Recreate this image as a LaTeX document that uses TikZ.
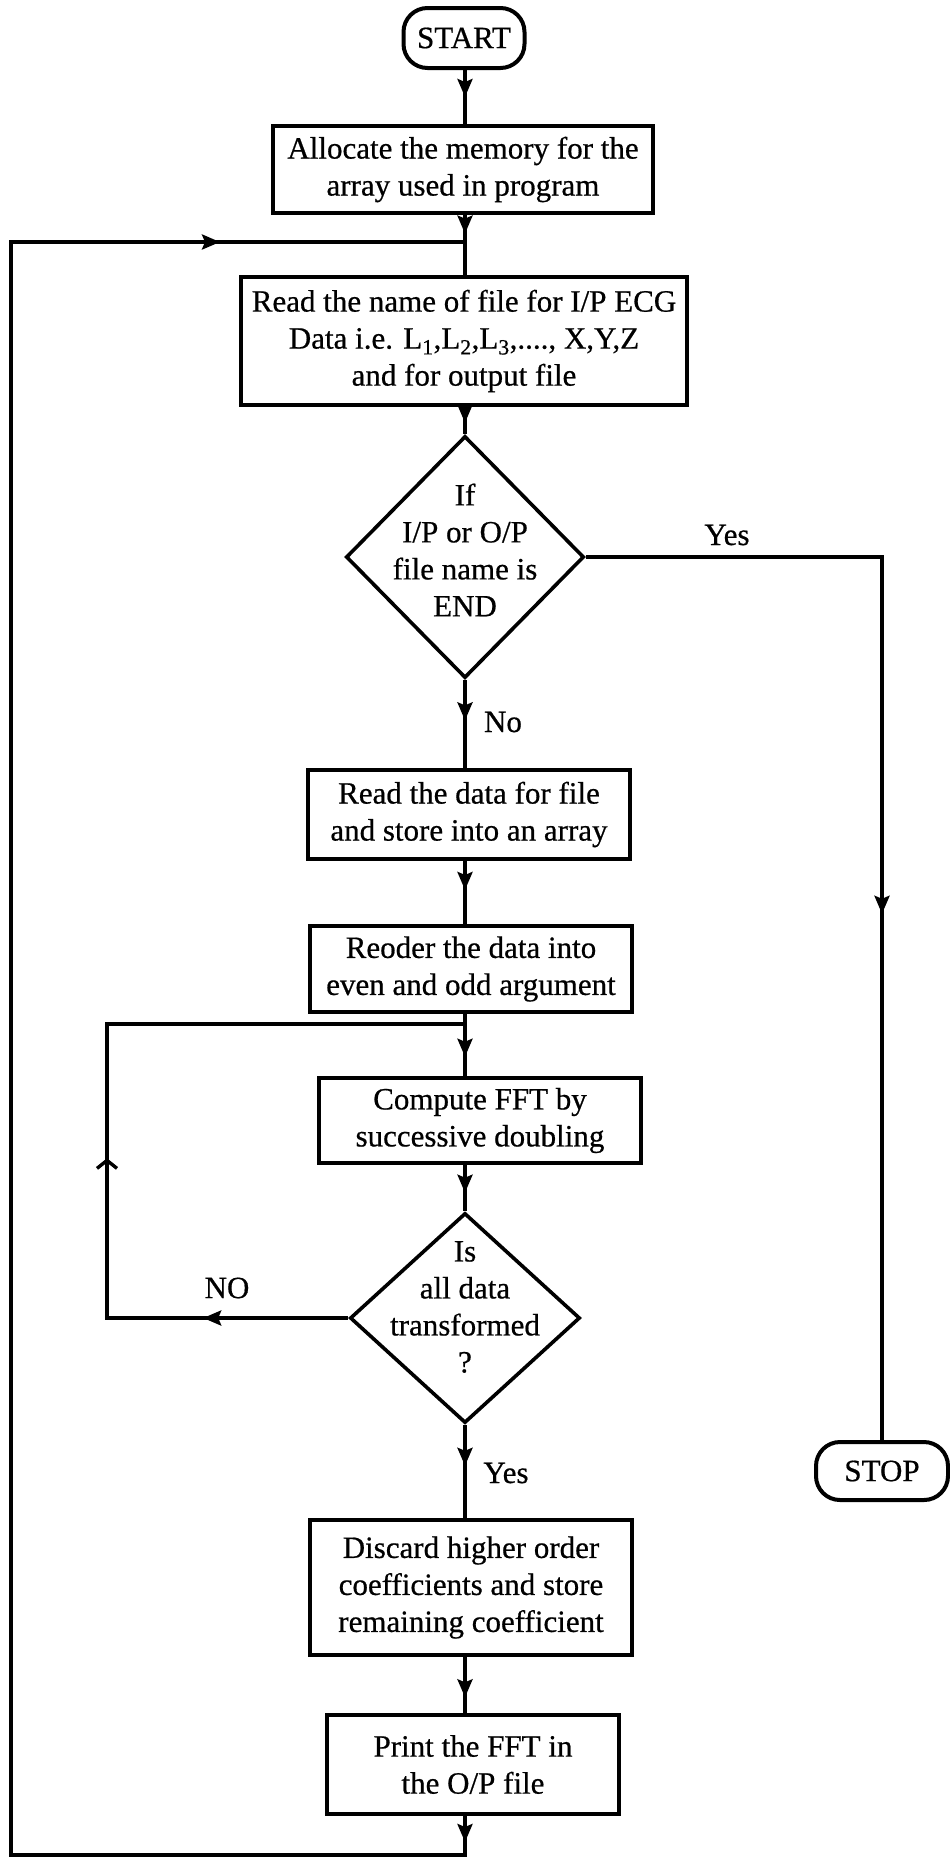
\documentclass[tikz,border=0pt]{standalone}
\usepackage{fontspec}
\setmainfont{Liberation Serif}[FakeBold=0.6]
\usetikzlibrary{shapes.geometric, arrows.meta, decorations.markings}

\tikzset{
  fwd/.tip={Stealth[length=18pt,width=15pt,inset=3pt]},
  barb/.tip={Straight Barb[length=8pt,width=20pt]},
  box/.style={draw, line width=4pt, rectangle, align=center, inner sep=0pt},
  term/.style={draw, line width=4pt, rectangle, rounded corners=24pt, align=center, inner sep=0pt},
  decision/.style={draw, line width=3.6pt, diamond, inner sep=0pt},
  flow/.style={line width=3.4pt},
  ahead/.style={postaction={decorate},
    decoration={markings, mark=at position #1 with {\arrow{fwd}}}},
}

\begin{document}
\begin{tikzpicture}[x=1pt, y=-1pt, font=\fontsize{31}{37}\selectfont]
  \useasboundingbox (0,0) rectangle (950,1858);

  % main column
  \coordinate (spine) at (465,0);
  \node[term, minimum width=121pt, minimum height=60pt] (start) at (464,38) {START};
  \node[box, minimum width=380pt, minimum height=87pt] (alloc) at (463,169.5)
    {Allocate the memory for the\\array used in program};
  \node[box, minimum width=446pt, minimum height=128pt] (readname) at (464,341)
    {Read the name of file for I/P ECG\\Data i.e. L\textsubscript{1},L\textsubscript{2},L\textsubscript{3},...., X,Y,Z\\and for output file};
  \node[decision, minimum width=238pt, minimum height=242pt] (d1) at (465,557) {};
  \node[align=center] (d1t) at (465,550) {If\\I/P or O/P\\file name is\\END};
  \node[box, minimum width=322pt, minimum height=89pt] (rdata) at (469,814.5)
    {Read the data for file\\and store into an array};
  \node[box, minimum width=322pt, minimum height=86pt] (reord) at (471,969)
    {Reoder the data into\\even and odd argument};
  \node[box, minimum width=322pt, minimum height=85pt] (comp) at (480,1120.5)
    {Compute FFT by\\successive doubling};
  \node[decision, minimum width=230pt, minimum height=210pt] (d2) at (465,1318) {};
  \node[align=center] (d2t) at (465,1307) {Is\\all data\\transformed\\?};
  \node[box, minimum width=322pt, minimum height=135pt] (disc) at (471,1587.5)
    {Discard higher order\\coefficients and store\\remaining coefficient};
  \node[box, minimum width=292pt, minimum height=99pt] (print) at (473,1764.5)
    {Print the FFT in\\the O/P file};
  \node[term, minimum width=132pt, minimum height=58pt] (stop) at (882,1471) {STOP};

  % branch labels
  \node (yes1) at (727,535) {Yes};
  \node (no1) at (503,722) {No};
  \node (no2) at (227,1288) {NO};
  \node (yes2) at (506,1473) {Yes};

  % junctions and loop corners
  \coordinate (j1) at (465,242);
  \coordinate (j2) at (465,1024);
  \coordinate (jb) at (465,1855);
  \coordinate (lt) at (11,242);
  \coordinate (it) at (107,1024);

  % straight flow
  \draw[flow, ahead=0.5]  (start.south -| spine) -- (alloc.north -| spine);
  \draw[flow, ahead=0.69] (alloc.south -| spine) -- (j1);
  \draw[flow]             (j1) -- (readname.north -| spine);
  \draw[flow, ahead=0.58] (readname.south -| spine) -- (d1.north);
  \draw[flow, ahead=0.46] (d1.south) -- (rdata.north -| spine);
  \draw[flow, ahead=0.46] (rdata.south -| spine) -- (reord.north -| spine);
  \draw[flow]             (reord.south -| spine) -- (j2);
  \draw[flow, ahead=0.63] (j2) -- (comp.north -| spine);
  \draw[flow, ahead=0.6]  (comp.south -| spine) -- (d2.north);
  \draw[flow, ahead=0.44] (d2.south) -- (disc.north -| spine);
  \draw[flow, ahead=0.72] (disc.south -| spine) -- (print.north -| spine);

  % exit branch to STOP
  \draw[flow, postaction={decorate},
    decoration={markings, mark=at position 653pt with {\arrow{fwd}}}]
    (d1.east) -| (stop.north);

  % inner loop: not all data transformed
  \draw[flow, postaction={decorate},
    decoration={markings,
      mark=at position 145pt with {\arrow{fwd}},
      mark=at position 401pt with {\arrow{barb}}}]
    (d2.west) -| (it) -- (j2);

  % outer loop back to the file-name input
  \draw[flow, postaction={decorate},
    decoration={markings,
      mark=at position 26pt with {\arrow{fwd}},
      mark=at position 2315pt with {\arrow{fwd}}}]
    (print.south -| spine) -- (jb) -| (lt) -- (j1);
\end{tikzpicture}
\end{document}
